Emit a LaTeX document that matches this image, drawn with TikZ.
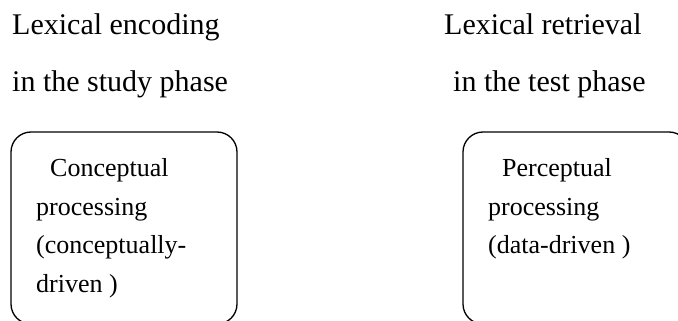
\documentclass[tikz,border=0pt]{standalone}
\usepackage{fontspec}
\setmainfont{Liberation Serif}
\begin{document}
\begin{tikzpicture}[x=1pt,y=-1pt,
  heading/.style={anchor=base west,inner sep=0pt,font=\fontsize{30}{36}\selectfont},
  boxtext/.style={anchor=base west,inner sep=0pt,font=\fontsize{26}{31}\selectfont},
  phasebox/.style={draw,line width=1.3pt,rounded corners=20pt,
    minimum width=226pt,minimum height=192pt,inner sep=0pt}]
  \useasboundingbox (0,0) rectangle (678,321);
  \clip (0,0) rectangle (678,321);

  % column headings
  \node[heading] (h1a) at (12,35) {Lexical encoding};
  \node[heading] (h1b) at (12,92) {in the study phase};
  \node[heading] (h2a) at (444,35) {Lexical retrieval};
  \node[heading] (h2b) at (453,92) {in the test phase};

  % the two processing boxes (their lower parts run off the page)
  \node[phasebox] (study) at (124,228) {};
  \node[phasebox] (test) at (576,228) {};

  % text of the study-phase box
  \node[boxtext] (s1) at (50,176) {Conceptual};
  \node[boxtext] (s2) at (36,215) {processing};
  \node[boxtext] (s3) at (36,253) {(conceptually-};
  \node[boxtext] (s4) at (36,292) {driven )};

  % text of the test-phase box
  \node[boxtext] (t1) at (502,176) {Perceptual};
  \node[boxtext] (t2) at (488,215) {processing};
  \node[boxtext] (t3) at (488,253) {(data-driven )};
\end{tikzpicture}
\end{document}
